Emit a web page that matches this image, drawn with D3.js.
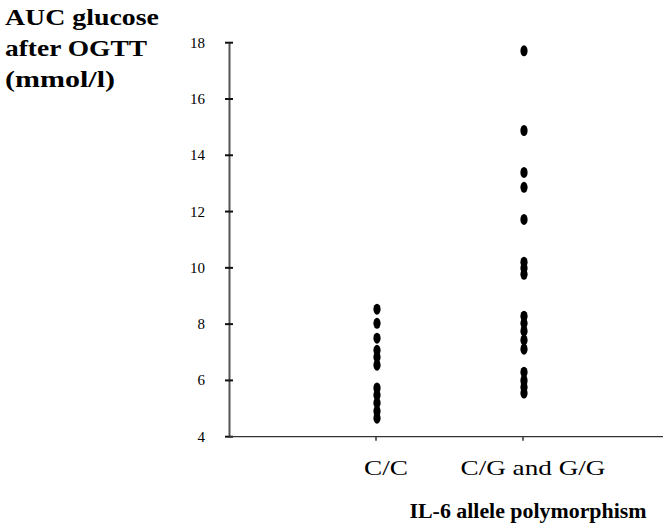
<!DOCTYPE html>
<html>
<head>
<meta charset="utf-8">
<script src="https://cdn.jsdelivr.net/npm/d3@7"></script>
<style>
  body { margin: 0; background: #fff; }
</style>
</head>
<body>
<div id="chart"></div>
<script>
// data
const categories = ["C/C", "C/G and G/G"];
const ccValues = [8.53, 8.03, 7.5, 7.07, 6.83, 6.54, 5.73, 5.48, 5.2, 4.91, 4.66];
const cgValues = [17.71, 14.88, 13.39, 12.86, 11.72, 10.2, 9.99, 9.77,
                  8.28, 8.03, 7.75, 7.43, 7.11, 6.29, 6.0, 5.76, 5.55];
const yTicks = [4, 6, 8, 10, 12, 14, 16, 18];
const yTitle = ["AUC glucose", "after OGTT", "(mmol/l)"];
const xTitle = "IL-6 allele polymorphism";

const serif = "'Liberation Serif', 'DejaVu Serif', 'Times New Roman', serif";
const width = 663, height = 528;
const svg = d3.select("#chart").append("svg")
    .attr("width", width)
    .attr("height", height)
    .style("font-family", serif);

const y = d3.scaleLinear().domain([4, 18]).range([436.7, 42.7]);
const x = d3.scalePoint().domain(categories).range([376, 523]);

// y axis
const yAxis = svg.append("g")
    .attr("transform", "translate(229,0)")
    .call(d3.axisLeft(y).tickValues(yTicks).tickSize(0).tickPadding(0).tickFormat(""));
yAxis.select(".domain").attr("stroke", "#555").attr("stroke-width", 2);

svg.append("g").selectAll("line").data(yTicks).join("line")
    .attr("x1", 225).attr("x2", 233)
    .attr("y1", d => y(d)).attr("y2", d => y(d))
    .attr("stroke", "#111").attr("stroke-width", 2);

svg.append("g").selectAll("text").data(yTicks).join("text")
    .attr("x", 205)
    .attr("y", d => y(d) + 5)
    .attr("text-anchor", "end")
    .style("font-family", serif)
    .attr("font-size", 15)
    .text(d => d);

// x axis
svg.append("line")
    .attr("x1", 229).attr("x2", width)
    .attr("y1", y(4)).attr("y2", y(4))
    .attr("stroke", "#333").attr("stroke-width", 1.2);

svg.append("g").selectAll("line").data(categories).join("line")
    .attr("x1", d => x(d)).attr("x2", d => x(d))
    .attr("y1", y(4)).attr("y2", y(4) + 4)
    .attr("stroke", "#333").attr("stroke-width", 1.5);

const catWidths = [44, 145];
svg.append("g").selectAll("text").data(categories).join("text")
    .attr("x", d => x(d) + 10)
    .attr("y", 475)
    .attr("text-anchor", "middle")
    .style("font-family", serif)
    .attr("font-size", 21)
    .attr("textLength", (d, i) => catWidths[i])
    .attr("lengthAdjust", "spacingAndGlyphs")
    .text(d => d);

// points
const groups = [
  { cat: categories[0], vals: ccValues },
  { cat: categories[1], vals: cgValues }
];
groups.forEach(g => {
  svg.append("g").selectAll("ellipse").data(g.vals).join("ellipse")
      .attr("cx", x(g.cat) + 1)
      .attr("cy", d => y(d))
      .attr("rx", 3.6)
      .attr("ry", 5.5)
      .attr("fill", "#000");
});

// titles
const titleWidths = [154, 142, 110];
svg.append("g").selectAll("text").data(yTitle).join("text")
    .style("font-family", serif)
    .attr("font-size", 23)
    .attr("font-weight", "bold")
    .attr("x", 5)
    .attr("y", (d, i) => 25 + i * 31)
    .attr("textLength", (d, i) => titleWidths[i])
    .attr("lengthAdjust", "spacingAndGlyphs")
    .text(d => d);

svg.append("text")
    .attr("x", 528)
    .attr("y", 518)
    .attr("text-anchor", "middle")
    .style("font-family", serif)
    .attr("font-size", 20)
    .attr("font-weight", "bold")
    .attr("textLength", 237)
    .attr("lengthAdjust", "spacingAndGlyphs")
    .text(xTitle);
</script>
</body>
</html>
